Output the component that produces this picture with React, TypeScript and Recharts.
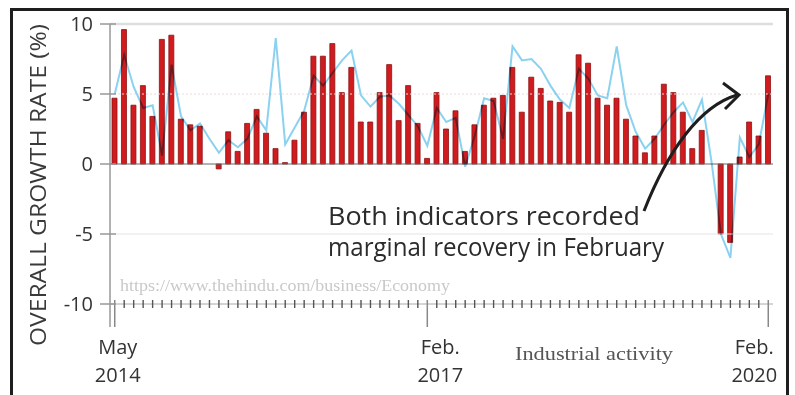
import React from 'react';
import { ComposedChart, Bar, Line, XAxis, YAxis, ReferenceLine } from 'recharts';

const months = [
  'May 2014', 'Jun 2014', 'Jul 2014', 'Aug 2014', 'Sep 2014', 'Oct 2014', 'Nov 2014', 'Dec 2014',
  'Jan 2015', 'Feb 2015', 'Mar 2015', 'Apr 2015', 'May 2015', 'Jun 2015', 'Jul 2015', 'Aug 2015', 'Sep 2015', 'Oct 2015', 'Nov 2015', 'Dec 2015',
  'Jan 2016', 'Feb 2016', 'Mar 2016', 'Apr 2016', 'May 2016', 'Jun 2016', 'Jul 2016', 'Aug 2016', 'Sep 2016', 'Oct 2016', 'Nov 2016', 'Dec 2016',
  'Jan 2017', 'Feb 2017', 'Mar 2017', 'Apr 2017', 'May 2017', 'Jun 2017', 'Jul 2017', 'Aug 2017', 'Sep 2017', 'Oct 2017', 'Nov 2017', 'Dec 2017',
  'Jan 2018', 'Feb 2018', 'Mar 2018', 'Apr 2018', 'May 2018', 'Jun 2018', 'Jul 2018', 'Aug 2018', 'Sep 2018', 'Oct 2018', 'Nov 2018', 'Dec 2018',
  'Jan 2019', 'Feb 2019', 'Mar 2019', 'Apr 2019', 'May 2019', 'Jun 2019', 'Jul 2019', 'Aug 2019', 'Sep 2019', 'Oct 2019', 'Nov 2019', 'Dec 2019',
  'Jan 2020', 'Feb 2020',
];

const barGrowth = [
  4.7, 9.6, 4.2, 5.6, 3.4, 8.9, 9.2, 3.2, 2.8, 2.7,
  0.0, -0.35, 2.3, 0.9, 2.9, 3.9, 2.2, 1.1, 0.1, 1.7,
  3.7, 7.7, 7.7, 8.6, 5.1, 6.9, 3.0, 3.0, 5.1, 7.1,
  3.1, 5.6, 2.9, 0.4, 5.1, 2.5, 3.8, 0.9, 2.8, 4.2,
  4.7, 4.9, 6.9, 3.7, 6.2, 5.4, 4.5, 4.4, 3.7, 7.8,
  7.2, 4.7, 4.2, 4.7, 3.2, 2.0, 0.8, 2.0, 5.7, 5.1,
  3.7, 1.1, 2.4, 0.0, -5.0, -5.6, 0.5, 3.0, 2.0, 6.3,
];

const lineGrowth = [
  5.0, 7.8, 5.5, 4.0, 4.2, 0.6, 7.1, 3.4, 2.4, 2.9,
  1.8, 0.8, 1.7, 1.2, 1.8, 3.4, 2.4, 9.0, 1.4, 2.6,
  3.8, 6.3, 5.6, 6.5, 7.4, 8.1, 4.9, 4.1, 4.8, 4.9,
  4.3, 3.5, 2.7, 1.3, 4.0, 3.0, 3.3, -0.2, 2.0, 4.7,
  4.5, 1.8, 8.4, 7.4, 7.5, 6.8, 5.6, 4.6, 4.0, 6.8,
  6.1, 4.9, 4.7, 8.4, 4.2, 2.3, 1.1, 1.8, 2.8, 3.7,
  4.4, 3.0, 4.6, 0.2, -5.0, -6.7, 1.9, 0.5, 1.4, 5.0,
];

const yTicks = [-10, -5, 0, 5, 10];
const majorMonths = ['May 2014', 'Feb 2017', 'Feb 2020'];
const majorLine1 = ['May', 'Feb.', 'Feb.'];
const majorLine2 = ['2014', '2017', '2020'];
const majorShift = [3, 13, -14];

const data = months.map((m, i) => ({ month: m, bar: barGrowth[i], line: lineGrowth[i] }));

const SANS = '"Open Sans", "Noto Sans", sans-serif';
const SERIF = '"Liberation Serif", "DejaVu Serif", serif';

const MonthTick = (props: any) => {
  const { x, y, payload } = props;
  const mi = majorMonths.indexOf(payload.value);
  return (
    <g>
      {mi < 0 && <line x1={x} x2={x} y1={y - 4} y2={y + 4} stroke="#555" strokeWidth={1.4} />}
      {mi >= 0 && <line x1={x} x2={x} y1={y - 4} y2={y + 23} stroke="#888" strokeWidth={1.5} />}
      {mi >= 0 && (
        <text x={x + majorShift[mi]} y={y + 50} textAnchor="middle" fontSize={20} fill="#333" fontFamily={SANS}>
          {majorLine1[mi]}
        </text>
      )}
      {mi >= 0 && (
        <text x={x + majorShift[mi]} y={y + 78} textAnchor="middle" fontSize={20} fill="#333" fontFamily={SANS}>
          {majorLine2[mi]}
        </text>
      )}
    </g>
  );
};

const ValueTick = (props: any) => {
  const { x, y, payload } = props;
  return (
    <g>
      <line x1={x - 10} x2={x + 6} y1={y} y2={y} stroke="#999" strokeWidth={1.5} />
      {payload.value === -10 && <line x1={x} x2={x} y1={y} y2={y + 23} stroke="#999" strokeWidth={1.5} />}
      <text x={x - 17} y={y} dy={7} textAnchor="end" fontSize={20} fill="#333" fontFamily={SANS}>
        {payload.value}
      </text>
    </g>
  );
};

export default function App() {
  return (
    <div style={{ position: 'absolute', left: 0, top: 0, width: 795, height: 395, overflow: 'hidden', background: '#fff' }}>
      <div
        style={{
          position: 'absolute', left: 10, top: 8, width: 779, height: 420,
          border: '3px solid #1e1e1e', boxSizing: 'border-box',
        }}
      />
      <div style={{ position: 'absolute', left: 0, top: 0 }}>
        <ComposedChart
          width={795}
          height={395}
          data={data}
          margin={{ top: 24, right: 22, bottom: 81, left: 0 }}
          barCategoryGap={0}
        >
          <ReferenceLine y={10} stroke="#dedede" strokeWidth={2.5} />
          <ReferenceLine y={5} stroke="#eadcdc" strokeWidth={1} strokeDasharray="2 2" />
          <ReferenceLine y={-5} stroke="#e4e4e4" strokeWidth={1} />
          <XAxis
            dataKey="month"
            interval={0}
            height={10}
            tickSize={0}
            tickMargin={0}
            tick={<MonthTick />}
            axisLine={{ stroke: '#aaa', strokeWidth: 1 }}
            tickLine={false}
          />
          <YAxis
            domain={[-10, 10]}
            ticks={yTicks}
            width={110}
            tickSize={0}
            tickMargin={0}
            tick={<ValueTick />}
            tickLine={false}
            axisLine={{ stroke: '#999', strokeWidth: 1.5 }}
            allowDataOverflow
          />
          <Bar dataKey="bar" fill="#d01c1f" stroke="#8e1113" strokeWidth={0.8} barSize={5} isAnimationActive={false} />
          <ReferenceLine y={0} stroke="#666" strokeWidth={1} />
          <Line
            dataKey="line"
            type="linear"
            stroke="#8ad2f0"
            strokeWidth={2}
            dot={false}
            isAnimationActive={false}
            style={{ mixBlendMode: 'multiply' }}
          />
        </ComposedChart>
      </div>
      <svg width={795} height={395} style={{ position: 'absolute', left: 0, top: 0, pointerEvents: 'none' }}>
        <text transform="translate(46,185) rotate(-90)" textAnchor="middle" fontSize={22} fill="#3a3a3a" fontFamily={SANS}
          textLength={322} lengthAdjust="spacingAndGlyphs">
          OVERALL GROWTH RATE (%)
        </text>
        <text x={120} y={291} fontSize={16} fill="#c9c9c9" fontFamily={SERIF} textLength={330} lengthAdjust="spacingAndGlyphs">
          https://www.thehindu.com/business/Economy
        </text>
        <text x={515} y={360} fontSize={18} fill="#555" fontFamily={SERIF} textLength={158} lengthAdjust="spacingAndGlyphs">
          Industrial activity
        </text>
        <text x={328} y={225} fontSize={25} fill="#2b2b2b" fontFamily={SANS} textLength={312} lengthAdjust="spacingAndGlyphs">
          Both indicators recorded
        </text>
        <text x={328} y={256} fontSize={25} fill="#2b2b2b" fontFamily={SANS} textLength={336} lengthAdjust="spacingAndGlyphs">
          marginal recovery in February
        </text>
        <path d="M 644 211 C 668 150, 700 106, 737 95" fill="none" stroke="#1e1e1e" strokeWidth={3} />
        <path d="M 723 83 L 739 95 L 725 109" fill="none" stroke="#1e1e1e" strokeWidth={3} strokeLinejoin="miter" />
      </svg>
    </div>
  );
}
